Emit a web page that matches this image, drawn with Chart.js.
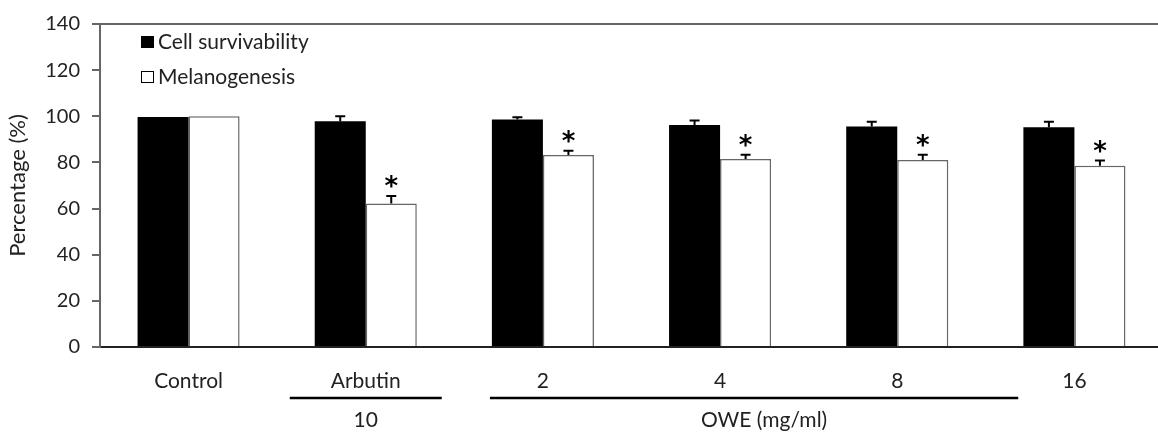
<!DOCTYPE html>
<html>
<head>
<meta charset="utf-8">
<script src="https://cdn.jsdelivr.net/npm/chart.js@4.4.1/dist/chart.umd.min.js"></script>
<style>
  html, body { margin: 0; padding: 0; background: #fff; overflow: hidden; }
  #wrap { position: relative; width: 1166px; height: 434px; }
</style>
</head>
<body>
<div id="wrap"><canvas id="chart"></canvas></div>
<script>
  /* data */
  var categories = ["Control", "Arbutin", "2", "4", "8", "16"];
  var cellSurvival = [99.7, 97.9, 98.6, 96.2, 95.6, 95.2];
  var cellSurvivalErr = [0, 2.1, 1.0, 2.0, 2.0, 2.4];
  var melanogenesis = [100, 62.2, 83.2, 81.5, 81.0, 78.6];
  var melanogenesisErr = [0, 3.3, 1.9, 1.8, 2.3, 2.2];
  var significant = [false, true, true, true, true, true];
  var yTicks = [0, 20, 40, 60, 80, 100, 120, 140];

  var groupLabels = ["10", "OWE (mg/ml)"];
  var groupStart = [1, 2];
  var groupEnd = [1, 4];

  var FONT = "Lato, 'Open Sans', sans-serif";
  var errs = [cellSurvivalErr, melanogenesisErr];

  /* error bars + asterisks */
  var errorBars = {
    id: "errorBars",
    afterDatasetsDraw: function (chart) {
      var ctx = chart.ctx;
      var y = chart.scales.y;
      ctx.save();
      chart.data.datasets.forEach(function (ds, d) {
        var meta = chart.getDatasetMeta(d);
        meta.data.forEach(function (bar, i) {
          var e = errs[d][i];
          if (!e) return;
          var top = y.getPixelForValue(ds.data[i] + e);
          ctx.strokeStyle = "#000";
          ctx.lineWidth = 2;
          ctx.beginPath();
          ctx.moveTo(bar.x, bar.y);
          ctx.lineTo(bar.x, top);
          ctx.moveTo(bar.x - 5, top);
          ctx.lineTo(bar.x + 5, top);
          ctx.stroke();
          if (d === 1 && significant[i]) {
            ctx.fillStyle = "#000";
            ctx.font = "bold 26px 'DejaVu Sans'";
            ctx.textAlign = "center";
            ctx.textBaseline = "alphabetic";
            ctx.fillText("*", bar.x, top - 1);
          }
        });
      });
      ctx.restore();
    }
  };

  /* legend in the top-left corner, top frame line, group brackets */
  var extras = {
    id: "extras",
    afterDraw: function (chart) {
      var ctx = chart.ctx;
      var area = chart.chartArea;
      var x = chart.scales.x;
      ctx.save();

      ctx.strokeStyle = "#666";
      ctx.lineWidth = 2;
      ctx.beginPath();
      ctx.moveTo(area.left, area.top);
      ctx.lineTo(chart.width, area.top);
      ctx.stroke();

      ctx.font = "21px " + FONT;
      ctx.textBaseline = "middle";
      ctx.textAlign = "left";
      var rows = [42, 77];
      chart.data.datasets.forEach(function (ds, d) {
        ctx.fillStyle = ds.backgroundColor;
        ctx.fillRect(141, rows[d] - 6, 13, 12);
        ctx.strokeStyle = "#000";
        ctx.lineWidth = 1;
        ctx.strokeRect(141.5, rows[d] - 5.5, 12, 11);
        ctx.fillStyle = "#222";
        ctx.fillText(ds.label, 158, rows[d]);
      });

      var pads = [[76, 76], [53, 121]];
      ctx.strokeStyle = "#000";
      ctx.lineWidth = 2.5;
      ctx.fillStyle = "#222";
      ctx.textAlign = "center";
      ctx.font = "21px " + FONT;
      groupLabels.forEach(function (lab, g) {
        var x0 = x.getPixelForValue(groupStart[g]) - pads[g][0];
        var x1 = x.getPixelForValue(groupEnd[g]) + pads[g][1];
        ctx.beginPath();
        ctx.moveTo(x0, 398);
        ctx.lineTo(x1, 398);
        ctx.stroke();
        ctx.fillText(lab, (x0 + x1) / 2 + (g ? 10 : 0), 420);
      });
      ctx.restore();
    }
  };

  new Chart("chart", {
    type: "bar",
    data: {
      labels: categories,
      datasets: [{
        label: "Cell survivability",
        data: cellSurvival,
        backgroundColor: "#000",
        borderColor: "#000",
        borderWidth: 0
      }, {
        label: "Melanogenesis",
        data: melanogenesis,
        backgroundColor: "#fff",
        borderColor: "#666",
        borderWidth: 1.5
      }]
    },
    options: {
      responsive: true,
      maintainAspectRatio: false,
      animation: false,
      layout: { padding: { top: 20, right: 3, left: 0, bottom: 0 } },
      datasets: { bar: { barPercentage: 1, categoryPercentage: 0.576 } },
      plugins: {
        legend: { display: false },
        tooltip: { enabled: false }
      },
      scales: {
        x: {
          grid: { display: false, drawTicks: false },
          border: { display: true, color: "#222", width: 2 },
          ticks: { color: "#222", font: { family: FONT, size: 21 }, padding: 22 },
          afterFit: function (s) { s.height = 87; }
        },
        y: {
          min: yTicks[0],
          max: yTicks[yTicks.length - 1],
          afterBuildTicks: function (s) {
            s.ticks = yTicks.map(function (v) { return { value: v }; });
          },
          grid: { drawOnChartArea: false, drawTicks: true, tickLength: 8, color: "#666", lineWidth: 2 },
          border: { display: true, color: "#666", width: 2 },
          ticks: { color: "#222", font: { family: FONT, size: 20 }, padding: 12 },
          title: {
            display: true,
            text: "Percentage (%)",
            color: "#222",
            font: { family: FONT, size: 22 },
            padding: { top: 5, bottom: 0 }
          },
          afterFit: function (s) { s.width = 100; }
        }
      }
    },
    plugins: [errorBars, extras]
  });
</script>
</body>
</html>
